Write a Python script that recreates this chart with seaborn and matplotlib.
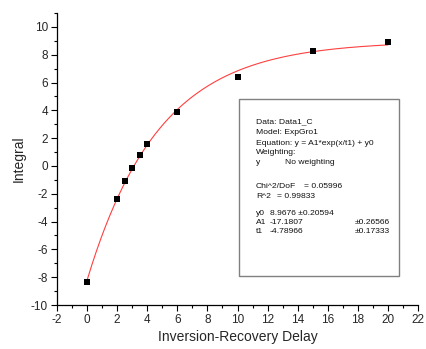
import numpy as np
import pandas as pd
import matplotlib
matplotlib.use('Agg')
import matplotlib.pyplot as plt
import seaborn as sns
from matplotlib.ticker import MultipleLocator
from matplotlib.patches import Rectangle

# -- measured data
delay = [0, 2, 2.5, 3, 3.5, 4, 6, 10, 15, 20]
integral = [-8.38, -2.4, -1.05, -0.15, 0.8, 1.6, 3.9, 6.38, 8.27, 8.94]

# -- fit parameters (ExpGro1)
y0 = 8.9676
A1 = -17.1807
t1 = -4.78966

fit_x = np.linspace(0, 20, 200)
fit = pd.DataFrame({'x': fit_x, 'y': A1 * np.exp(fit_x / t1) + y0})
pts = pd.DataFrame({'x': delay, 'y': integral})

sns.set_style('ticks')
plt.rcParams['font.family'] = ['Liberation Sans', 'DejaVu Sans']
plt.rcParams['axes.unicode_minus'] = False

fig = plt.figure(figsize=(4.27, 3.49), dpi=100)
ax = fig.add_axes([0.1335, 0.126, 0.8455, 0.8368])

sns.lineplot(data=fit, x='x', y='y', color='#ff4040', linewidth=0.8, ax=ax)
sns.scatterplot(data=pts, x='x', y='y', marker='s', s=20, color='black',
                edgecolor='black', linewidth=0, ax=ax, zorder=3)

ax.set_xlim(-2, 22)
ax.set_ylim(-10, 11)
ax.xaxis.set_major_locator(MultipleLocator(2))
ax.xaxis.set_minor_locator(MultipleLocator(1))
ax.yaxis.set_minor_locator(MultipleLocator(1))
ax.set_yticks(np.arange(-10, 11, 2))
ax.tick_params(which='major', length=4.5, width=0.8, labelsize=8.5, pad=2,
               color='black')
ax.tick_params(which='minor', length=2.5, width=0.8, color='black')
sns.despine(ax=ax)
for s in ['left', 'bottom']:
    ax.spines[s].set_linewidth(0.9)
    ax.spines[s].set_color('black')

ax.set_xlabel('Inversion-Recovery Delay', fontsize=10, labelpad=3)
ax.set_ylabel('Integral', fontsize=10, labelpad=4)

# -- fit report box
W, H = 427, 349
fig.patches.append(Rectangle((239 / W, 1 - 276 / H), 160 / W, 177 / H,
                             transform=fig.transFigure, facecolor='white',
                             edgecolor='#808080', linewidth=1.0, zorder=5))

def txt(px, py, s):
    fig.text(px / W, 1 - py / H, s, fontsize=6.1, va='center', ha='left',
             color='#111111', zorder=6)

txt(256, 122, 'Data: Data1_C')
txt(256, 132.5, 'Model: ExpGro1')
txt(256, 143, 'Equation: y = A1*exp(x/t1) + y0')
txt(256, 152.5, 'Weighting:')
txt(256, 162, 'y')
txt(285, 162, 'No weighting')
txt(256, 187, 'Chi^2/DoF')
txt(304, 187, '= 0.05996')
txt(256, 196.5, 'R^2')
txt(277, 196.5, '= 0.99833')
txt(256, 213.5, 'y0')
txt(270, 213.5, '8.9676 \u00b10.20594')
txt(256, 222.5, 'A1')
txt(270, 222.5, '-17.1807')
txt(355, 222.5, '\u00b10.26566')
txt(256, 231.5, 't1')
txt(270, 231.5, '-4.78966')
txt(355, 231.5, '\u00b10.17333')

fig.savefig('out.png', dpi=100)
